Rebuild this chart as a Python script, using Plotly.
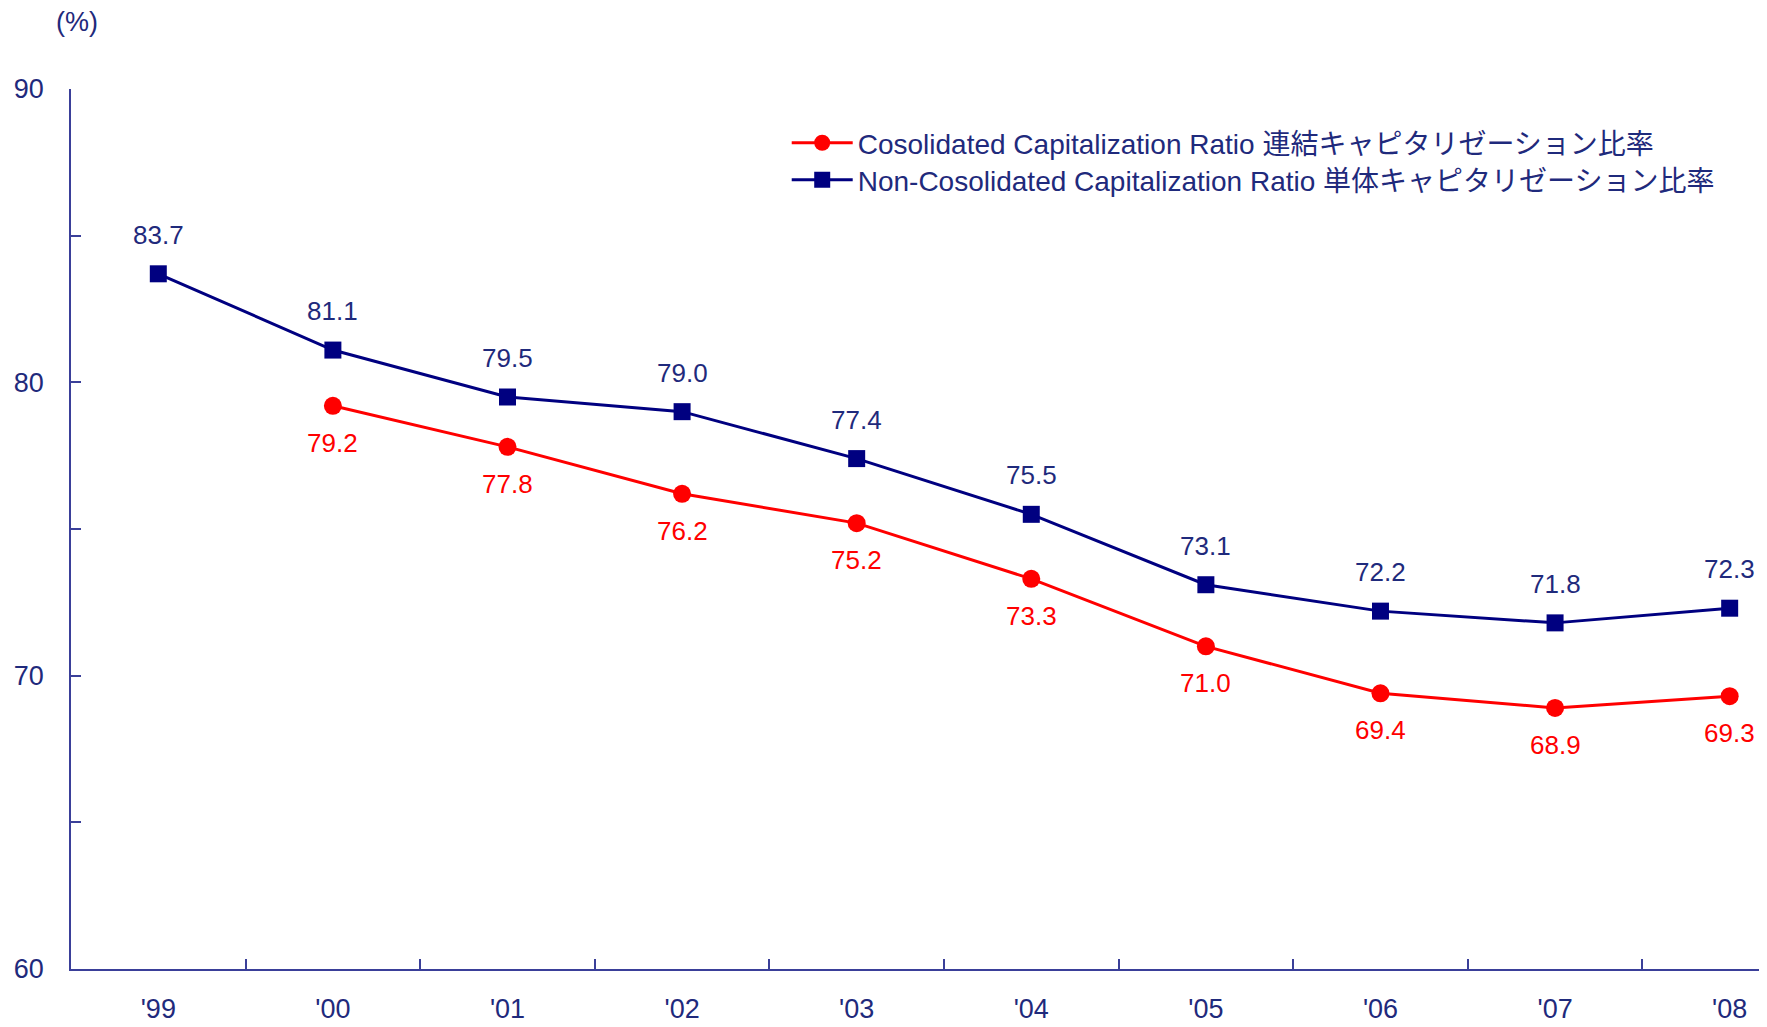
import plotly.graph_objects as go

years = ["'99", "'00", "'01", "'02", "'03", "'04", "'05", "'06", "'07", "'08"]
consolidated = [None, 79.2, 77.8, 76.2, 75.2, 73.3, 71.0, 69.4, 68.9, 69.3]
non_consolidated = [83.7, 81.1, 79.5, 79.0, 77.4, 75.5, 73.1, 72.2, 71.8, 72.3]

navy = "#000080"
red = "#FF0000"
txt = "#1F2A7C"
axis_col = "#3A3F99"
font_family = "Liberation Sans, Arial, Noto Sans CJK JP"

fig = go.Figure()

fig.add_trace(go.Scatter(
    x=years, y=consolidated, mode="lines+markers",
    name="Cosolidated Capitalization Ratio 連結キャピタリゼーション比率",
    line=dict(color=red, width=3),
    marker=dict(symbol="circle", size=18, color=red),
    legend="legend",
))
fig.add_trace(go.Scatter(
    x=years, y=non_consolidated, mode="lines+markers",
    name="Non-Cosolidated Capitalization Ratio 単体キャピタリゼーション比率",
    line=dict(color=navy, width=3),
    marker=dict(symbol="square", size=17, color=navy),
    legend="legend2",
))

# value labels
for x, v in zip(years, non_consolidated):
    fig.add_annotation(x=x, y=v, text=f"{v:.1f}", showarrow=False, yshift=39,
                       font=dict(size=26, color=txt, family=font_family))
for x, v in zip(years, consolidated):
    if v is None:
        continue
    fig.add_annotation(x=x, y=v, text=f"{v:.1f}", showarrow=False, yshift=-37,
                       font=dict(size=26, color=red, family=font_family))

fig.add_annotation(xref="paper", yref="paper", x=0.0035, y=1.0756,
                   xanchor="center", yanchor="middle",
                   text="(%)", showarrow=False,
                   font=dict(size=27, color=txt, family=font_family))

# page body has an 8px margin, so the figure is 16px smaller than the window
leg = dict(x=0.424, xanchor="left", yanchor="middle",
           bgcolor="rgba(0,0,0,0)", itemwidth=61,
           font=dict(size=28, color=txt, family=font_family))
fig.update_layout(
    width=1751, height=1011,
    margin=dict(l=63, r=0, t=81, b=50),
    paper_bgcolor="white", plot_bgcolor="white",
    font=dict(family=font_family, color=txt, size=27),
    showlegend=True,
    legend=dict(leg, y=0.9386),
    legend2=dict(leg, y=0.8966),
)

fig.update_xaxes(
    type="category", range=[-0.5, 9.168], automargin=False,
    showline=True, linecolor=axis_col, linewidth=1.5,
    ticks="inside", ticklen=10, tickcolor=axis_col, tickwidth=1.5,
    tickson="boundaries", showgrid=False, zeroline=False,
    tickfont=dict(size=27, color=txt), ticklabelstandoff=15,
)
fig.update_yaxes(
    range=[60, 90], tickvals=[60, 65, 70, 75, 80, 85, 90],
    ticktext=["60", "", "70", "", "80", "", "90"], automargin=False,
    showline=True, linecolor=axis_col, linewidth=1.5,
    ticks="inside", ticklen=10, tickcolor=axis_col, tickwidth=1.5,
    showgrid=False, zeroline=False,
    tickfont=dict(size=27, color=txt), ticklabelstandoff=20,
)

fig.write_html("out.html")
